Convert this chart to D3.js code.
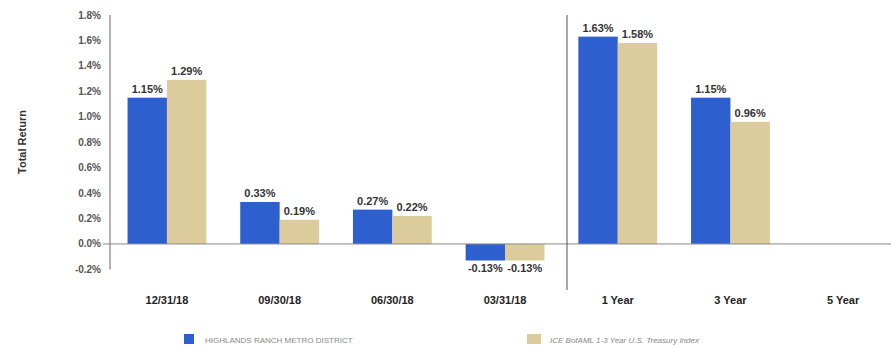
<!doctype html>
<html>
<head>
<meta charset="UTF-8">
<title>Total Return</title>
<script src="https://d3js.org/d3.v7.min.js"></script>
<style>
  body { margin: 0; background: #fff; }
  text { font-family: "Liberation Sans", Arial, sans-serif; }
</style>
</head>
<body>
<script>
var w = 891, h = 348;

var categories = ["12/31/18", "09/30/18", "06/30/18", "03/31/18", "1 Year", "3 Year", "5 Year"];
var seriesNames = ["HIGHLANDS RANCH METRO DISTRICT", "ICE BofAML 1-3 Year U.S. Treasury Index"];
var district = [1.15, 0.33, 0.27, -0.13, 1.63, 1.15, null];
var treasury = [1.29, 0.19, 0.22, -0.13, 1.58, 0.96, null];
var yTicks = [-0.2, 0, 0.2, 0.4, 0.6, 0.8, 1.0, 1.2, 1.4, 1.6, 1.8];
var colors = ["#2d5fcf", "#dccb9b"];

var svg = d3.select("body").append("svg").attr("width", w).attr("height", h);

var x = d3.scaleBand().domain(categories).range([110.6, 899.5]).padding(0);
var xs = d3.scaleBand().domain([0, 1]).range([0, x.bandwidth()]).paddingOuter(0.43).paddingInner(0);
var y = d3.scaleLinear().domain([-0.2, 1.8]).range([269.4, 15]);

// y axis
svg.append("line")
  .attr("x1", 110).attr("x2", 110)
  .attr("y1", y(1.8)).attr("y2", y(-0.2))
  .attr("stroke", "#666").attr("stroke-width", 1);

svg.selectAll(".ytick").data(yTicks).enter().append("text")
  .attr("class", "ytick")
  .attr("x", 101).attr("y", function(d) { return y(d) + 3.5; })
  .attr("text-anchor", "end")
  .attr("font-size", 10).attr("font-weight", "bold").attr("fill", "#555")
  .text(function(d) { return d.toFixed(1) + "%"; });

svg.append("text")
  .attr("transform", "translate(26,142) rotate(-90)")
  .attr("text-anchor", "middle")
  .attr("font-size", 11).attr("font-weight", "bold").attr("fill", "#333")
  .text("Total Return");

// bars
var rows = categories.map(function(c, i) {
  return { cat: c, vals: [district[i], treasury[i]] };
});

var groups = svg.selectAll(".grp").data(rows).enter().append("g")
  .attr("class", "grp")
  .attr("transform", function(d) { return "translate(" + x(d.cat) + ",0)"; });

groups.selectAll("rect")
  .data(function(d) { return d.vals.map(function(v, k) { return { v: v, k: k }; }).filter(function(e) { return e.v !== null; }); })
  .enter().append("rect")
  .attr("x", function(d) { return xs(d.k); })
  .attr("width", xs.bandwidth())
  .attr("y", function(d) { return y(Math.max(0, d.v)); })
  .attr("height", function(d) { return Math.abs(y(d.v) - y(0)); })
  .attr("fill", function(d) { return colors[d.k]; });

groups.selectAll(".val")
  .data(function(d) { return d.vals.map(function(v, k) { return { v: v, k: k }; }).filter(function(e) { return e.v !== null; }); })
  .enter().append("text")
  .attr("class", "val")
  .attr("x", function(d) { return xs(d.k) + xs.bandwidth() / 2; })
  .attr("y", function(d) { return d.v >= 0 ? y(d.v) - 5 : y(d.v) + 12; })
  .attr("text-anchor", "middle")
  .attr("font-size", 11).attr("font-weight", "bold").attr("fill", "#333")
  .text(function(d) { return d.v.toFixed(2) + "%"; });

// zero line
svg.append("line")
  .attr("x1", 103).attr("x2", w)
  .attr("y1", y(0)).attr("y2", y(0))
  .attr("stroke", "#888").attr("stroke-width", 1);

// separator between periods and annualised returns
var sepX = x("1 Year") + 5.6;
svg.append("line")
  .attr("x1", sepX).attr("x2", sepX)
  .attr("y1", 15).attr("y2", 290)
  .attr("stroke", "#555").attr("stroke-width", 1);

// category labels
svg.selectAll(".xlab").data(categories).enter().append("text")
  .attr("class", "xlab")
  .attr("x", function(d) { return x(d) + x.bandwidth() / 2; })
  .attr("y", 304)
  .attr("text-anchor", "middle")
  .attr("font-size", 11).attr("font-weight", "bold").attr("fill", "#222")
  .text(function(d) { return d; });

// legend
var legX = [184, 527];
seriesNames.forEach(function(name, k) {
  svg.append("rect")
    .attr("x", legX[k]).attr("y", 334)
    .attr("width", k == 0 ? 10 : 14).attr("height", 10)
    .attr("fill", colors[k]);
  svg.append("text")
    .attr("x", legX[k] + (k == 0 ? 21 : 23)).attr("y", 343)
    .attr("font-size", 8).attr("fill", "#888")
    .attr("font-style", k == 1 ? "italic" : "normal")
    .text(name);
});
</script>
</body>
</html>
